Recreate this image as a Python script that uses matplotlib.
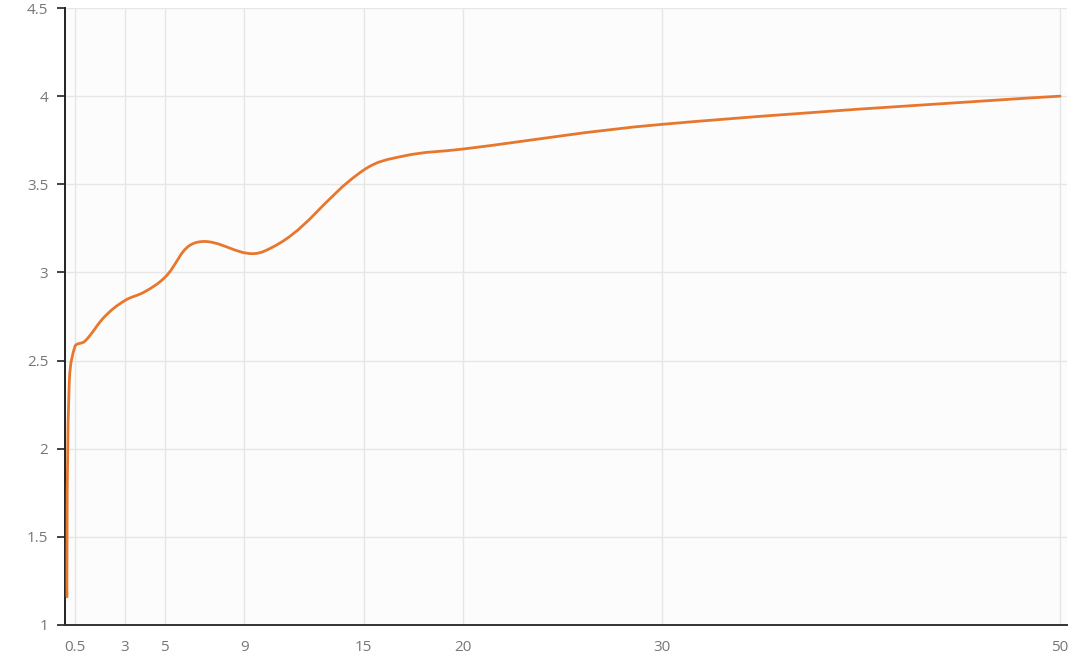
import numpy as np
import matplotlib
matplotlib.use('Agg')
import matplotlib.pyplot as plt
from matplotlib.path import Path
from matplotlib.patches import PathPatch

# data
x_vals = [0.1, 0.2, 0.5, 1, 2, 3, 4, 5, 6.6, 10, 15, 17, 20, 30, 50]
y_vals = [1.16, 2.33, 2.58, 2.61, 2.75, 2.84, 2.89, 2.97, 3.17, 3.12, 3.58, 3.66, 3.70, 3.84, 4.00]
x_ticks = [0.5, 3, 5, 9, 15, 20, 30, 50]
x_tick_labels = ['0.5', '3', '5', '9', '15', '20', '30', '50']
y_ticks = [1, 1.5, 2, 2.5, 3, 3.5, 4, 4.5]
y_tick_labels = ['1', '1.5', '2', '2.5', '3', '3.5', '4', '4.5']

plt.rcParams['font.family'] = ['Open Sans', 'DejaVu Sans']

fig = plt.figure(figsize=(10.8, 6.62), dpi=100)
ax = fig.add_axes([0.0602, 0.0559, 0.9278, 0.9320])
ax.set_facecolor('#fcfcfd')

# smooth line like echarts (bezier control points)
def smooth_path(xs, ys, smooth=0.4, sx=19.9, sy=176.0):
    pts = np.column_stack([np.array(xs) * sx, np.array(ys) * sy])
    n = len(pts)
    verts = [pts[0]]
    codes = [Path.MOVETO]
    cps_in, cps_out = [None] * n, [None] * n
    for i in range(n):
        if i == 0 or i == n - 1:
            cps_in[i] = pts[i]
            cps_out[i] = pts[i]
            continue
        prev, cur, nxt = pts[i - 1], pts[i], pts[i + 1]
        v = nxt - prev
        d0 = np.hypot(*(cur - prev))
        d1 = np.hypot(*(nxt - cur))
        r = d0 / (d0 + d1)
        cps_in[i] = cur - v * smooth * r
        cps_out[i] = cur + v * smooth * (1 - r)
    for i in range(1, n):
        verts += [cps_out[i - 1], cps_in[i], pts[i]]
        codes += [Path.CURVE4] * 3
    verts = np.array(verts) / np.array([sx, sy])
    return Path(verts, codes)

patch = PathPatch(smooth_path(x_vals, y_vals), facecolor='none',
                  edgecolor='#e8772e', lw=2.0, capstyle='round', zorder=3)
ax.add_patch(patch)

ax.set_xlim(0, 50.35)
ax.set_ylim(1, 4.5)
ax.set_xticks(x_ticks)
ax.set_xticklabels(x_tick_labels)
ax.set_yticks(y_ticks)
ax.set_yticklabels(y_tick_labels)

ax.grid(True, color='#e6e6e6', lw=1.0, zorder=0)
ax.set_axisbelow(True)

for s in ['top', 'right']:
    ax.spines[s].set_visible(False)
ax.spines['left'].set_color('#222222')
ax.spines['left'].set_linewidth(1.4)
ax.spines['bottom'].set_color('#333333')
ax.spines['bottom'].set_linewidth(1.4)

ax.tick_params(axis='y', direction='out', length=6, width=1.2, color='#222222',
               labelcolor='#777777', labelsize=11, pad=6)
ax.tick_params(axis='x', length=0, labelcolor='#777777', labelsize=11, pad=11)

fig.savefig('out.png', dpi=100, facecolor='white')
